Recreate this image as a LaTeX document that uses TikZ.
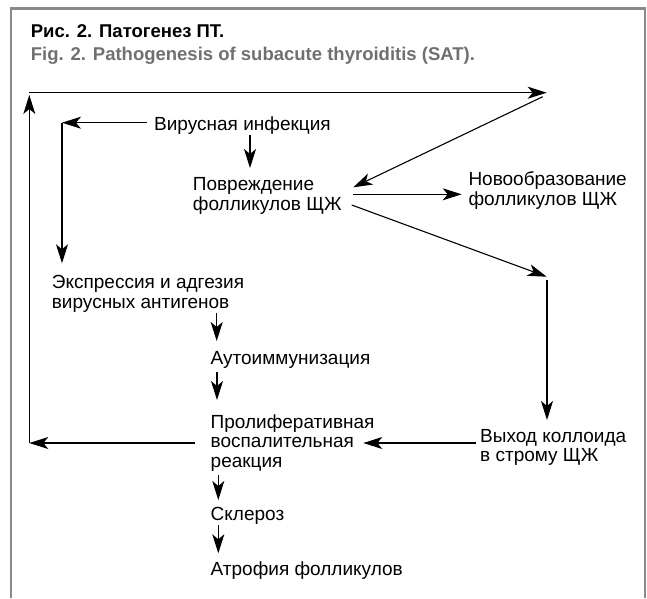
\documentclass[tikz,border=0pt]{standalone}
\usepackage{fontspec}
\setmainfont{Liberation Sans}
\usetikzlibrary{arrows.meta}
\definecolor{framegray}{HTML}{8A8A8A}
\definecolor{titlegray}{HTML}{707070}
\begin{document}
\begin{tikzpicture}[x=1pt,y=-1pt,
  lbl/.style={anchor=base west, inner sep=0pt, font=\fontsize{19}{19.7}\selectfont, align=left},
  ttl/.style={anchor=base west, inner sep=0pt, font=\fontsize{18.5}{20}\selectfont\bfseries},
  conn/.style={line width=1.1pt, -{Stealth[length=19pt,width=12pt,inset=5pt]}}]
\useasboundingbox (0,0) rectangle (647,598);
\draw[framegray, line width=2.5pt] (11,598) -- (11,8.3) -- (645,8.3) -- (645,598);
% titles
\node[ttl] (t1) at (30.7,37.7) {Рис. 2. Патогенез ПТ.};
\node[ttl, text=titlegray] (t2) at (30.7,60.5) {Fig. 2. Pathogenesis of subacute thyroiditis (SAT).};
% labels (anchor = baseline of the last line)
\node[lbl] (vir) at (154,130.7) {Вирусная инфекция};
\node[lbl] (povr) at (192.7,210) {Повреждение\\фолликулов ЩЖ};
\node[lbl] (novo) at (468.3,205.5) {Новообразование\\фолликулов ЩЖ};
\node[lbl] (eksp) at (51.7,308.3) {Экспрессия и адгезия\\вирусных антигенов};
\node[lbl] (auto) at (210.5,364) {Аутоиммунизация};
\node[lbl] (prol) at (210.5,467.5) {Пролиферативная\\воспалительная\\реакция};
\node[lbl] (vyh) at (480,461.7) {Выход коллоида\\в строму ЩЖ};
\node[lbl] (skl) at (210.5,520.7) {Склероз};
\node[lbl] (atr) at (210.5,575) {Атрофия фолликулов};
% connector points
\coordinate (virL) at (147,122.7);
\coordinate (cVir) at (62,122.7);
\coordinate (eksT) at (62,263.3);
\coordinate (virB) at (250,135);
\coordinate (povT) at (250,168);
\coordinate (povR) at (352.7,194.3);
\coordinate (novL) at (461.7,194.3);
\coordinate (povRb) at (351.7,205);
\coordinate (cMid) at (546.7,276.7);
\coordinate (cMidB) at (547,280);
\coordinate (vyhT) at (547,420);
\coordinate (vyhL) at (476,443);
\coordinate (proR) at (363.3,443);
\coordinate (proL) at (195,443);
\coordinate (cBL) at (29.3,443);
\coordinate (cTLa) at (29.3,95);
\coordinate (cTL) at (29.3,92.7);
\coordinate (cTR) at (546.7,92.7);
\coordinate (cTRb) at (542.7,96.7);
\coordinate (povRt) at (353.3,187.3);
\coordinate (eksB) at (216.7,313);
\coordinate (autT) at (216.7,341);
\coordinate (autB) at (217,372);
\coordinate (proT) at (217,400);
\coordinate (proB) at (218.3,475);
\coordinate (sklT) at (218.3,500);
\coordinate (sklB) at (218.3,525);
\coordinate (atrT) at (218.3,553.3);
% connectors
\draw[conn] (virL) -- (cVir);
\draw[conn] (cVir) -- (eksT);
\draw[conn] (virB) -- (povT);
\draw[conn] (povR) -- (novL);
\draw[conn] (povRb) -- (cMid);
\draw[conn] (cMidB) -- (vyhT);
\draw[conn] (vyhL) -- (proR);
\draw[conn] (proL) -- (cBL);
\draw[conn] (cBL) -- (cTLa);
\draw[conn] (cTL) -- (cTR);
\draw[conn] (cTRb) -- (povRt);
\draw[conn] (eksB) -- (autT);
\draw[conn] (autB) -- (proT);
\draw[conn] (proB) -- (sklT);
\draw[conn] (sklB) -- (atrT);
\end{tikzpicture}
\end{document}
